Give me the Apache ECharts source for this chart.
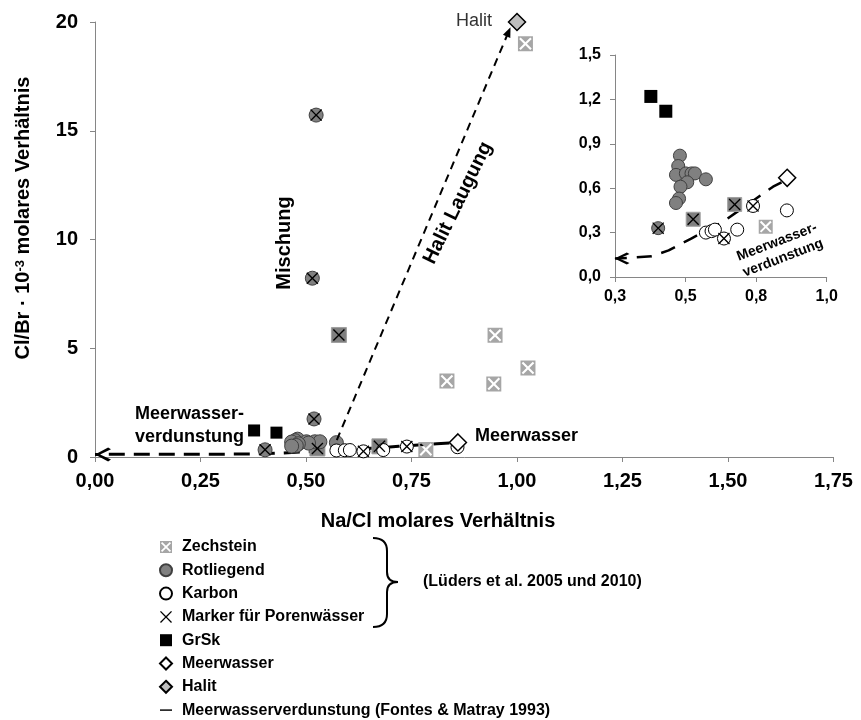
<!DOCTYPE html>
<html><head><meta charset="utf-8">
<script src="https://cdn.jsdelivr.net/npm/echarts@6/dist/echarts.min.js"></script>
<style>html,body{margin:0;padding:0;background:#fff}#c{width:861px;height:720px}</style>
</head><body><div id="c"></div>
<script>
// ---- tick labels ----
const mainXTickLabels = ['0,00','0,25','0,50','0,75','1,00','1,25','1,50','1,75'];
const mainYTickLabels = ['0','5','10','15','20'];
const insetXTickLabels = ['0,3','0,5','0,8','1,0'];
const insetYTickLabels = ['0,0','0,3','0,6','0,9','1,2','1,5'];

// ---- data [Na/Cl, Cl/Br*10^-3] ----
const zechstein = [[1.02,19.0],[0.948,5.6],[0.834,3.49],[0.945,3.36],[1.026,4.09],[0.784,0.34]];
const zechsteinPore = [[0.578,5.61],[0.527,0.39],[0.674,0.49]];
const rotliegend = [[0.480,0.82],[0.474,0.75],[0.466,0.69],[0.501,0.70],[0.521,0.70],[0.533,0.70],[0.506,0.64],[0.482,0.61],[0.572,0.66],[0.477,0.53],[0.466,0.50]];
const rotliegendPore = [[0.403,0.33],[0.524,15.72],[0.515,8.22],[0.519,1.75]];
const karbon = [[0.572,0.30],[0.592,0.31],[0.604,0.32],[0.683,0.32],[0.859,0.45]];
const karbonPore = [[0.636,0.26],[0.739,0.48]];
const grsk = [[0.377,1.22],[0.430,1.12]];
const meerwasser = [[0.86,0.67]];
const halit = [[1.0,20.0]];
const evapCurve = [[0.84,0.64],[0.81,0.61],[0.72,0.49],[0.63,0.37],[0.52,0.26],[0.44,0.18],[0.38,0.14],[0.30,0.13]];
const evapEndMain = [0.0,0.12];
const evapEndInset = [0.25,0.125];
const mischungLine = [[0.505,0.3],[0.516,20.25]];
const halitLaugungLine = [[0.573,0.78],[0.98,19.55]];

const SYM = {
  zech: 'path://M0 0L100 0L100 100L0 100Z M8 18L40 50L8 82L18 92L50 60L82 92L92 82L60 50L92 18L82 8L50 40L18 8Z',
  cross: 'path://M0 8L8 0L50 42L92 0L100 8L58 50L100 92L92 100L50 58L8 100L0 92L42 50Z',
  arrowLeft: 'path://M0 50L82 0L100 13L32 50L100 87L82 100Z',
  lineIcon: 'path://M0 0L100 0L100 12L0 12Z'
};
const FONT = 'Liberation Sans, Arial, sans-serif';
const EVAP = 'Meerwasserverdunstung (Fontes & Matray 1993)';
const PORE = 'Marker für Porenwässer';

const chart = echarts.init(document.getElementById('c'), null, {renderer:'canvas'});

function idx(v, step, base){ return Math.round((v - base) / step); }

const axisCommon = {
  axisLine:{show:true,onZero:false,lineStyle:{color:'#868686',width:1}},
  axisTick:{show:true,inside:false,length:5,lineStyle:{color:'#868686'}},
  splitLine:{show:false}
};

function pair(base, mainExtra, insetExtra){
  return [
    Object.assign({xAxisIndex:0,yAxisIndex:0}, base, mainExtra),
    Object.assign({xAxisIndex:1,yAxisIndex:1}, base, insetExtra)
  ];
}

const series = [];
// evaporation line
series.push({
  name: EVAP, type:'line', xAxisIndex:0, yAxisIndex:0, clip:false, z:2,
  symbol:'none', showSymbol:true, itemStyle:{color:'#000',opacity:1},
  lineStyle:{color:'#000',width:3,type:[16,9]},
  data: evapCurve.map(p=>({value:p})).concat([{value:evapEndMain, symbol:SYM.arrowLeft, symbolSize:[16,14], symbolOffset:[8,0], symbolKeepAspect:false}])
});
series.push({
  name: EVAP, type:'line', xAxisIndex:1, yAxisIndex:1, clip:false, z:2,
  symbol:'none', showSymbol:true, itemStyle:{color:'#000',opacity:1},
  lineStyle:{color:'#000',width:2.5,type:[15,10]},
  data: evapCurve.map(p=>({value:p})).concat([{value:evapEndInset, symbol:SYM.arrowLeft, symbolSize:[15,12], symbolOffset:[7,0], symbolKeepAspect:false}])
});

series.push(...pair({name:'Zechstein',type:'scatter',symbol:SYM.zech,data:zechstein,z:3,
  itemStyle:{color:'#a6a6a6',borderWidth:0,opacity:1}},{symbolSize:15},{symbolSize:14}));
series.push(...pair({name:'Zechstein',type:'scatter',symbol:'rect',data:zechsteinPore,z:3,
  itemStyle:{color:'#7f7f7f',borderColor:'#a0a0a0',borderWidth:1,opacity:1}},{symbolSize:15},{symbolSize:14}));
series.push(...pair({name:'Rotliegend',type:'scatter',symbol:'circle',data:rotliegend.concat(rotliegendPore),z:3,
  itemStyle:{color:'#808080',borderColor:'#404040',borderWidth:1,opacity:1}},{symbolSize:14},{symbolSize:13}));
series.push(...pair({name:'Karbon',type:'scatter',symbol:'circle',data:karbon.concat(karbonPore),z:3,
  itemStyle:{color:'#ffffff',borderColor:'#000',borderWidth:1,opacity:1}},{symbolSize:13},{symbolSize:13}));
series.push(...pair({name:'GrSk',type:'scatter',symbol:'rect',data:grsk,z:3,
  itemStyle:{color:'#000',opacity:1}},{symbolSize:12},{symbolSize:13}));
series.push(...pair({name:'Meerwasser',type:'scatter',symbol:'diamond',data:meerwasser,z:4,
  itemStyle:{color:'#fff',borderColor:'#000',borderWidth:1.5,opacity:1}},{symbolSize:17},{symbolSize:17}));
series.push({name:'Halit',type:'scatter',symbol:'diamond',data:halit,z:4,xAxisIndex:0,yAxisIndex:0,clip:false,
  symbolSize:17, itemStyle:{color:'#bfbfbf',borderColor:'#000',borderWidth:1.5,opacity:1},
  markLine:{silent:true,animation:false,symbol:['none','triangle'],symbolSize:[8,10],
    label:{show:false}, lineStyle:{color:'#000',width:2,type:[8,6],opacity:1},
    data:[
      [{coord:mischungLine[0]},{coord:mischungLine[1]}],
      [{coord:halitLaugungLine[0]},{coord:halitLaugungLine[1]}]
    ]}
});
const poreAll = zechsteinPore.concat(rotliegendPore, karbonPore);
series.push(...pair({name:PORE,type:'scatter',symbol:SYM.cross,data:poreAll,z:5,
  itemStyle:{color:'#000',opacity:1}},{symbolSize:12},{symbolSize:12}));

const option = {
  animation:false,
  backgroundColor:'#fff',
  textStyle:{fontFamily:FONT},
  grid:[
    {left:95, top:22, width:738.5, height:435},
    {left:615, top:55, width:211.7, height:222}
  ],
  xAxis:[
    Object.assign({type:'value',gridIndex:0,min:0,max:1.75,interval:0.25,
      axisLabel:{fontSize:20,fontWeight:'bold',color:'#000',fontFamily:FONT,margin:14,
        formatter:v=>mainXTickLabels[idx(v,0.25,0)]}}, axisCommon),
    Object.assign({type:'value',gridIndex:1,min:0.25,max:1.0,interval:0.25,
      axisLabel:{fontSize:16,fontWeight:'bold',color:'#000',fontFamily:FONT,margin:12,
        formatter:v=>insetXTickLabels[idx(v,0.25,0.25)]}}, axisCommon)
  ],
  yAxis:[
    Object.assign({type:'value',gridIndex:0,min:0,max:20,interval:5,
      axisLabel:{fontSize:20,fontWeight:'bold',color:'#000',fontFamily:FONT,margin:17,
        formatter:v=>mainYTickLabels[idx(v,5,0)]}}, axisCommon),
    Object.assign({type:'value',gridIndex:1,min:0,max:1.5,interval:0.3,
      axisLabel:{fontSize:16,fontWeight:'bold',color:'#000',fontFamily:FONT,margin:14,
        formatter:v=>insetYTickLabels[idx(v,0.3,0)]}}, axisCommon)
  ],
  legend:{
    orient:'vertical', left:159, top:539, padding:0, height:185,
    itemWidth:12, itemHeight:12, itemGap:7.3, symbolKeepAspect:true,
    textStyle:{fontSize:16,fontWeight:'bold',color:'#000',fontFamily:FONT,lineHeight:16,padding:[0,0,0,5]},
    selectedMode:false,
    data:[
      {name:'Zechstein'},{name:'Rotliegend'},{name:'Karbon'},{name:PORE},
      {name:'GrSk'},{name:'Meerwasser'},{name:'Halit'},{name:EVAP, icon:SYM.lineIcon}
    ]
  },
  graphic:[
    {type:'text', x:23.5, y:218, rotation:Math.PI/2, style:{
      text:'{a|Cl/Br · 10}{s|-3}{a| molares Verhältnis}', align:'center', verticalAlign:'middle',
      rich:{a:{fontSize:20,fontWeight:'bold',fontFamily:FONT,fill:'#000'},
            s:{fontSize:13,fontWeight:'bold',fontFamily:FONT,fill:'#000',verticalAlign:'top',padding:[0,0,6,0]}}}},
    {type:'text', x:438, y:521, style:{text:'Na/Cl molares Verhältnis', align:'center', verticalAlign:'middle',
      fontSize:20, fontWeight:'bold', fontFamily:FONT, fill:'#000'}},
    {type:'text', x:492, y:21, style:{text:'Halit', align:'right', verticalAlign:'middle',
      fontSize:18, fontFamily:FONT, fill:'#333'}},
    {type:'text', x:458, y:203, rotation:64*Math.PI/180, style:{text:'Halit Laugung', align:'center', verticalAlign:'middle',
      fontSize:20, fontWeight:'bold', fontFamily:FONT, fill:'#000'}},
    {type:'text', x:284, y:243, rotation:Math.PI/2, style:{text:'Mischung', align:'center', verticalAlign:'middle',
      fontSize:20, fontWeight:'bold', fontFamily:FONT, fill:'#000'}},
    {type:'text', x:135, y:414, style:{text:'Meerwasser-', align:'left', verticalAlign:'middle',
      fontSize:18, fontWeight:'bold', fontFamily:FONT, fill:'#000'}},
    {type:'text', x:135, y:437, style:{text:'verdunstung', align:'left', verticalAlign:'middle',
      fontSize:18, fontWeight:'bold', fontFamily:FONT, fill:'#000'}},
    {type:'text', x:475, y:436, style:{text:'Meerwasser', align:'left', verticalAlign:'middle',
      fontSize:18, fontWeight:'bold', fontFamily:FONT, fill:'#000'}},
    {type:'text', x:780, y:250, rotation:21*Math.PI/180, style:{text:'Meerwasser-\nverdunstung', align:'center', verticalAlign:'middle',
      fontSize:14, fontWeight:'bold', fontFamily:FONT, fill:'#000', lineHeight:17}},
    {type:'text', x:423, y:582, style:{text:'(Lüders et al. 2005 und 2010)', align:'left', verticalAlign:'middle',
      fontSize:16, fontWeight:'bold', fontFamily:FONT, fill:'#000'}},
    {type:'bezierCurve', shape:{x1:373,y1:538,x2:387,y2:551,cpx1:387,cpy1:538}, style:{stroke:'#000',lineWidth:2,fill:null}},
    {type:'line', shape:{x1:387,y1:551,x2:387,y2:572}, style:{stroke:'#000',lineWidth:2}},
    {type:'bezierCurve', shape:{x1:387,y1:572,x2:398,y2:582,cpx1:387,cpy1:582}, style:{stroke:'#000',lineWidth:2,fill:null}},
    {type:'bezierCurve', shape:{x1:398,y1:582,x2:387,y2:592,cpx1:387,cpy1:582}, style:{stroke:'#000',lineWidth:2,fill:null}},
    {type:'line', shape:{x1:387,y1:592,x2:387,y2:614}, style:{stroke:'#000',lineWidth:2}},
    {type:'bezierCurve', shape:{x1:387,y1:614,x2:373,y2:627,cpx1:387,cpy1:627}, style:{stroke:'#000',lineWidth:2,fill:null}}
  ],
  series: series
};
chart.setOption(option);
</script>
</body></html>
